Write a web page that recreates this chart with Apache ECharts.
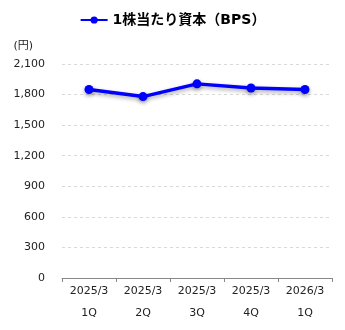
<!DOCTYPE html>
<html>
<head>
<meta charset="utf-8">
<script src="https://cdn.jsdelivr.net/npm/echarts@6/dist/echarts.min.js"></script>
<style>
html,body{margin:0;padding:0;background:#fff;}
#chart{width:345px;height:330px;}
</style>
</head>
<body>
<div id="chart"></div>
<script>
// Book value per share by quarter
const categories = ['2025/3\n1Q', '2025/3\n2Q', '2025/3\n3Q', '2025/3\n4Q', '2026/3\n1Q'];
const bpsValues = [1850, 1780, 1905, 1865, 1850];
const seriesName = '1株当たり資本（BPS）';
const yTicks = { min: 0, max: 2100, interval: 300 };

const font = 'Verdana, "DejaVu Sans", "Noto Sans CJK JP", sans-serif';
const chart = echarts.init(document.getElementById('chart'));
chart.setOption({
  animation: false,
  textStyle: { fontFamily: font },
  legend: {
    data: [seriesName],
    top: 8,
    left: 'center',
    itemWidth: 27,
    itemHeight: 9,
    itemGap: 5,
    textStyle: { fontFamily: font, fontSize: 14, fontWeight: 'bold', color: '#000' }
  },
  grid: { left: 62, right: 13, top: 64, bottom: 52 },
  xAxis: {
    type: 'category',
    data: categories,
    boundaryGap: true,
    axisLine: { lineStyle: { color: '#888', width: 1 } },
    axisTick: { show: true, length: 4, lineStyle: { color: '#888' } },
    axisLabel: { color: '#222', fontSize: 11, lineHeight: 22, margin: 2, fontFamily: font }
  },
  yAxis: {
    type: 'value',
    min: yTicks.min,
    max: yTicks.max,
    interval: yTicks.interval,
    name: '(円)',
    nameLocation: 'end',
    nameGap: 12,
    nameTextStyle: { color: '#222', fontSize: 11, align: 'right', padding: [0, 29, 0, 0], fontFamily: font },
    axisLine: { show: false },
    axisTick: { show: false },
    axisLabel: {
      color: '#222', fontSize: 11, margin: 17, fontFamily: font,
      formatter: v => v.toLocaleString('en-US')
    },
    splitLine: { lineStyle: { color: '#d9d9d9', type: [3, 3], width: 1 } }
  },
  series: [{
    name: seriesName,
    type: 'line',
    data: bpsValues,
    symbol: 'circle',
    symbolSize: 9,
    color: '#0000ff',
    lineStyle: { width: 3.5, color: '#0000ff', shadowColor: 'rgba(0,0,0,0.35)', shadowBlur: 4, shadowOffsetY: 2 },
    itemStyle: { color: '#0000ff', shadowColor: 'rgba(0,0,0,0.35)', shadowBlur: 4, shadowOffsetY: 2 }
  }]
});
</script>
</body>
</html>
